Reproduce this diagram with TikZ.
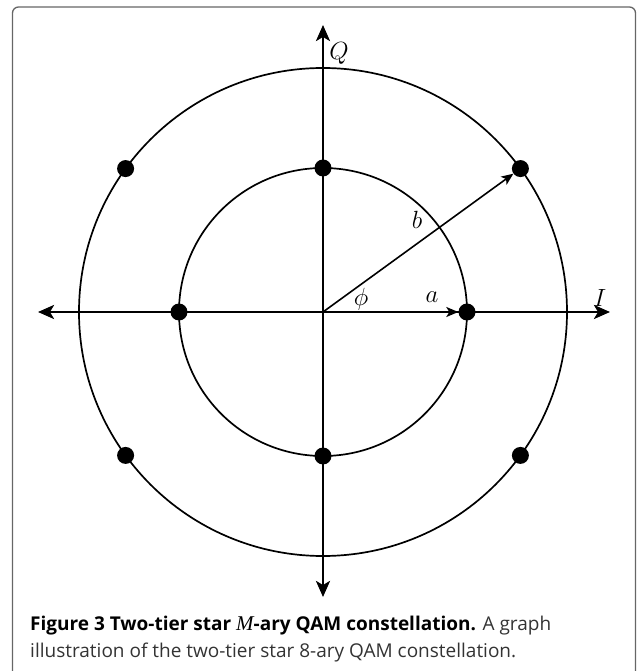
\documentclass[tikz,border=0pt]{standalone}
\usepackage{fontspec}
\newfontfamily\capfont{Open Sans}
\newfontfamily\capital{Liberation Serif}
\usetikzlibrary{arrows.meta}
\begin{document}
\begin{tikzpicture}[x=1pt,y=1pt,
    sym/.style={circle,fill=black,inner sep=0pt,minimum size=17pt},
    axis/.style={line width=2.7pt,-{Stealth[length=16pt,width=14pt,inset=4pt]}},
    ring/.style={line width=1.7pt},
    vec/.style={line width=1.6pt,-{Stealth[length=12pt,width=10pt,inset=3pt]}},
    lbl/.style={font=\fontsize{24}{28}\selectfont}]
    \useasboundingbox (-323,-359) rectangle (314,312);
    \draw[black!60,line width=1.3pt,rounded corners=6pt](-310.5,-375) rectangle (312.5,305);
    \begin{scope}[shift={(0,0)}]
      \coordinate (O) at (0,0);
      \coordinate (Ie) at (287,0);
      \coordinate (Iw) at (-285,0);
      \coordinate (Qn) at (0,287);
      \coordinate (Qs) at (0,-285);
      \draw[ring] (O) circle (144);
      \draw[ring] (O) circle (244);
      \draw[axis] (O) -- (Ie);
      \draw[axis] (O) -- (Iw);
      \draw[axis] (O) -- (Qn);
      \draw[axis] (O) -- (Qs);
      % constellation points
      \foreach \a [count=\i] in {0,90,180,270}
        \node[sym] (in\i) at (\a:144) {};
      \foreach \a [count=\i] in {36,144,216,324}
        \node[sym] (out\i) at (\a:244) {};
      \draw[vec] (O) -- (in1);
      \draw[vec] (O) -- (out1);
      \node[lbl] (qlab) at (16,259) {$Q$};
      \node[lbl] (ilab) at (277,14) {$I$};
      \node[lbl] (blab) at (94,92) {$b$};
      \node[lbl] (alab) at (109,15) {$a$};
      \node[lbl] (philab) at (38,13) {$\phi$};
    \end{scope}
    % caption
    \node[anchor=base west,inner sep=0pt,font=\capfont\fontsize{19}{23}\selectfont] (cap1) at (-293,-318)
      {\textbf{Figure 3 Two-tier star {\capital\itshape\mdseries\fontsize{21}{23}\selectfont M}-ary QAM constellation.} \textcolor{black!80}{A graph}};
    \node[anchor=base west,inner sep=0pt,text=black!80,font=\capfont\fontsize{19}{23}\selectfont] (cap2) at (-293,-345)
      {illustration of the two-tier star 8-ary QAM constellation.};
\end{tikzpicture}
\end{document}
